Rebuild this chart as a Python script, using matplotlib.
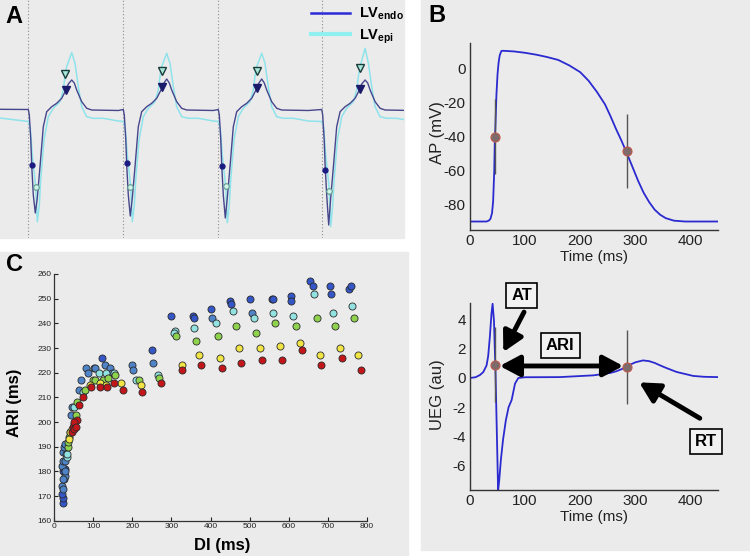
import matplotlib
matplotlib.use("Agg")
import matplotlib.pyplot as plt
from matplotlib.patches import Rectangle, ArrowStyle

plt.rcParams["font.family"] = ["Liberation Sans", "DejaVu Sans"]
plt.rcParams["mathtext.fontset"] = "custom"
plt.rcParams["mathtext.bf"] = "Liberation Sans:bold"
plt.rcParams["mathtext.rm"] = "Liberation Sans"
plt.rcParams["axes.unicode_minus"] = False

# ---------------- data ----------------
# Panel A: beat template (offset from beat onset, trace level; down is more negative deflection)
endo_dt = [0, 1, 2.5, 3.4, 5, 7, 9, 11.7, 15, 18.4, 23.4, 28.4, 33.4, 37.7, 40, 43.4, 46, 48.4, 53.4, 58.4, 63.4, 90]
endo_lv = [109.5, 115, 140, 165, 195, None, 198, 166.7, 126.7, 111.7, 106.7, 103.3, 98.3, 90, 84, None, 83, 90, 101.7, 108.3, 110, 110.5]
epi_dt = [0, 2, 4, 7.4, 9, 11, 12.4, 15.7, 20, 25, 31.7, 35, 37, 38.4, 43.4, 46.7, 50, 53.4, 58.4, 65, 75, 90]
epi_lv = [121.5, 128, 155, 186.7, None, 205, 180, 140, 116.7, 108.3, 101.7, 90, 74, 66.7, None, 63.3, 86.7, 106.7, 116.7, 118.3, 118.3, 121]
beat_onsets = [28.3, 123.3, 218.3, 321.7]
endo_min = [213, 216, 218, 225]
endo_peak = [80, 79, 79, 80]
epi_min = [221.7, 221.7, 222.7, 226.7]
epi_peak = [52.5, 53.3, 53.3, 48.3]
endo_dot_x = [31.7, 126.7, 221.7, 325.0]
endo_dot_y = [165, 163, 165.7, 170]
epi_circ_x = [35.7, 130.3, 225.7, 328.7]
epi_circ_y = [186.7, 187.3, 186, 190.7]
epi_tri_x = [65.3, 161.7, 256.7, 360.3]
epi_tri_y = [74, 71, 71, 67.7]
endo_tri_x = [66, 162, 256.7, 360]
endo_tri_y = [90, 87.3, 87.7, 89]

# Panel B: action potential
ap_t = [0, 30, 34, 37, 40, 42, 44, 45, 46, 47, 48, 50, 52, 54, 57, 60, 80, 100, 120, 140, 160, 180, 200,
        215, 230, 245, 255, 265, 275, 283, 295, 305, 315, 325, 335, 345, 355, 370, 390, 450]
ap_v = [-90, -90, -89.5, -88.5, -85, -78, -60, -42, -35, -25, -15, -3, 4, 8, 10.5, 10.6, 10.2, 9.4, 8.3, 6.9, 5.2, 2.0, -2,
        -7, -13.5, -21, -28, -35.5, -42.5, -48.5, -58, -66, -73, -78.5, -83, -86, -88, -89.5, -90, -90]
# Panel B: unipolar electrogram
ueg_t = [0, 10, 18, 24, 30, 33, 36, 39, 41, 43.5, 45.3, 46, 51, 53, 56, 60, 65, 70, 75.6, 81.7, 87.7, 95, 100,
         163, 224, 254, 265, 275, 284, 290, 300, 314, 325, 335, 345, 355, 375, 405, 425, 450]
ueg_v = [0, 0.05, 0.2, 0.4, 0.85, 1.5, 2.8, 4.4, 5.07, 3.9, 1.6, 0.9, -7.7, -7.0, -5.6, -4.2, -2.9, -2.0, -1.5, -0.38, 0.0, 0.03, 0.05,
         0.06, 0.18, 0.34, 0.45, 0.6, 0.75, 0.9, 1.07, 1.2, 1.15, 1.03, 0.86, 0.7, 0.41, 0.14, 0.08, 0.06]
at_time, rt_time = 46, 284
ap_at, ap_rt = -40, -48.5
ueg_at, ueg_rt = 0.9, 0.75

# Panel C: restitution (DI, ARI) by series
db_di = [298, 355, 357, 401, 450, 452, 502, 557, 559, 605, 607, 655, 662, 705, 708, 755, 758, 122, 250, 22, 24, 21, 23, 26, 28]
db_ari = [243, 243, 242, 246, 249, 248, 250, 250, 250, 251, 249, 257, 255, 255, 252, 254, 255, 226, 229, 167, 169, 171, 180, 181, 181]
bl_di = [404, 505, 83, 87, 102, 106, 130, 143, 147, 200, 203, 252, 20, 23, 25, 27, 21, 24, 27, 23, 25, 28, 30, 43, 45, 64, 68, 22, 29]
bl_ari = [242, 244, 222, 220, 222, 222, 223, 222, 220, 223, 221, 224, 174, 173, 177, 178, 182, 184, 184, 188, 190, 191, 187, 203, 206, 213, 217, 177, 180]
cy_di = [308, 307, 358, 415, 458, 512, 560, 610, 665, 713, 762, 115, 133, 153, 210, 265, 73, 52, 32, 34]
cy_ari = [237, 236, 238, 240, 245, 242, 244, 243, 252, 244, 247, 220, 220, 220, 217, 219, 212, 206, 186, 187]
gr_di = [313, 364, 419, 465, 517, 566, 618, 672, 718, 768, 100, 105, 124, 139, 157, 216, 268, 80, 58, 55, 35, 37, 39, 41]
gr_ari = [235, 233, 235, 239, 236, 240, 239, 242, 239, 242, 217, 217, 217, 218, 219, 217, 218, 213, 208, 203, 190, 192, 194, 196]
ye_di = [326, 371, 425, 474, 527, 577, 630, 680, 732, 778, 92, 118, 133, 172, 222, 38, 42, 46, 50]
ye_ari = [223, 227, 226, 230, 230, 231, 232, 227, 230, 227, 215, 216, 215, 216, 215, 193, 196, 197, 199]
rd_di = [328, 375, 430, 478, 531, 583, 633, 683, 737, 785, 95, 117, 135, 154, 177, 225, 274, 73, 65, 60, 45, 48, 50, 52, 55]
rd_ari = [221, 223, 222, 224, 225, 225, 229, 223, 226, 221, 214, 214, 214, 216, 213, 212, 216, 210, 207, 201, 196, 198, 200, 197, 198]

# ---------------- layout ----------------
W, H = 750, 556
GRAY = "#ebebeb"
fig = plt.figure(figsize=(W / 100, H / 100), dpi=100)


def panel_bg(x0, y0, x1, y1):
    fig.add_artist(Rectangle((x0 / W, 1 - y1 / H), (x1 - x0) / W, (y1 - y0) / H,
                             transform=fig.transFigure, color=GRAY, zorder=0))


def add_ax(x0, y0, x1, y1):
    return fig.add_axes([x0 / W, 1 - y1 / H, (x1 - x0) / W, (y1 - y0) / H])


panel_bg(0, 0, 404, 238)
panel_bg(0, 252, 408, 556)
panel_bg(421, 0, 750, 550)

# ---------------- panel A ----------------
ax_a = add_ax(0, 0, 404, 238)
ax_a.set_facecolor("none")
for s in ax_a.spines.values():
    s.set_visible(False)
ax_a.set_xticks([])
ax_a.set_yticks([])
ax_a.set_xlim(0, 404)
ax_a.set_ylim(238, 0)

endo_x, endo_y = [0], [109.3]
epi_x, epi_y = [0], [118]
for k, t0 in enumerate(beat_onsets):
    for dt, lv in zip(endo_dt, endo_lv):
        if lv is None:
            lv = endo_min[k] if dt < 20 else endo_peak[k]
        endo_x.append(t0 + dt)
        endo_y.append(lv)
    for dt, lv in zip(epi_dt, epi_lv):
        if lv is None:
            lv = epi_min[k] if dt < 20 else epi_peak[k]
        epi_x.append(t0 + dt)
        epi_y.append(lv)

for t0 in beat_onsets:
    ax_a.axvline(t0, color="#8a8a8a", lw=0.8, ls=(0, (1, 2)), zorder=1)

ax_a.plot(epi_x, epi_y, color="#8fe3ea", lw=1.1, zorder=2)
ax_a.plot(endo_x, endo_y, color="#46468c", lw=1.0, zorder=3)
ax_a.plot(endo_dot_x, endo_dot_y, "o", ms=3.5, color="#1a1a80", zorder=4)
ax_a.plot(epi_circ_x, epi_circ_y, "o", ms=4, mfc="#d2f2ea", mec="#5a9a8c", mew=0.8, zorder=4)
ax_a.plot(epi_tri_x, epi_tri_y, "v", ms=6, mfc="#a8e8d8", mec="#1a3a3a", mew=1.0, zorder=4)
ax_a.plot(endo_tri_x, endo_tri_y, "v", ms=6, mfc="#1a1a6a", mec="#1a1a6a", zorder=4)

h_endo, = ax_a.plot([], [], color="#2b2bd6", lw=1.8)
h_epi, = ax_a.plot([], [], color="#90f0f0", lw=3)
ax_a.legend([h_endo, h_epi], [r"$\mathbf{LV}_{\mathbf{endo}}$", r"$\mathbf{LV}_{\mathbf{epi}}$"],
            loc="upper left", bbox_to_anchor=(0.762, 0.988), frameon=False, fontsize=10.5,
            handlelength=2.7, handletextpad=0.6, labelspacing=0.35, borderpad=0.2, borderaxespad=0)

# ---------------- panel B ----------------
BLUE = "#2a2ad0"
ax_ap = add_ax(470, 43.3, 718, 230)
ax_ueg = add_ax(470, 303.3, 718, 490)
for ax in (ax_ap, ax_ueg):
    ax.set_facecolor("none")
    ax.spines["top"].set_visible(False)
    ax.spines["right"].set_visible(False)
    for s in ("left", "bottom"):
        ax.spines[s].set_color("#333333")
        ax.spines[s].set_linewidth(1.0)
    ax.tick_params(length=0, labelsize=11, colors="#222222")
    ax.tick_params(axis="y", pad=3)
    ax.tick_params(axis="x", pad=3)
    ax.set_xlim(0, 450)
    ax.set_xticks([0, 100, 200, 300, 400])
    ax.set_xlabel("Time (ms)", fontsize=11, color="#222222", labelpad=1)

ax_ap.plot(ap_t, ap_v, color=BLUE, lw=1.3, zorder=2)
ax_ap.vlines([at_time, rt_time], [ap_at - 22, ap_rt - 22], [ap_at + 22, ap_rt + 22], color="#555555", lw=1, zorder=3)
ax_ap.plot([at_time, rt_time], [ap_at, ap_rt], "o", ms=6.5, mfc="#7d6a6a", mec="#c05a4c", mew=0.8, zorder=4)
ax_ap.set_ylim(-95, 15)
ax_ap.set_yticks([-80, -60, -40, -20, 0])
ax_ap.set_ylabel("AP (mV)", fontsize=12, color="#222222")
ax_ap.yaxis.set_label_coords(-0.1, 0.52)

ax_ueg.plot(ueg_t, ueg_v, color=BLUE, lw=1.3, zorder=2)
ax_ueg.vlines([at_time, rt_time], [ueg_at - 2.55, ueg_rt - 2.55], [ueg_at + 2.55, ueg_rt + 2.55], color="#555555", lw=1, zorder=3)
ax_ueg.plot([at_time, rt_time], [ueg_at, ueg_rt], "o", ms=6.5, mfc="#7d6a6a", mec="#c05a4c", mew=0.8, zorder=4)
ax_ueg.set_ylim(-7.65, 5.1)
ax_ueg.set_yticks([-6, -4, -2, 0, 2, 4])
ax_ueg.set_ylabel("UEG (au)", fontsize=12, color="#222222")
ax_ueg.yaxis.set_label_coords(-0.1, 0.509)

head = ArrowStyle("-|>", head_length=0.6, head_width=0.32)
dbl = ArrowStyle("<|-|>", head_length=0.6, head_width=0.32)
ax_ueg.annotate("", xy=(60.4, 1.77), xytext=(98, 4.5),
                arrowprops=dict(arrowstyle=head, lw=3.5, color="k", mutation_scale=20, shrinkA=0, shrinkB=0),
                annotation_clip=False, zorder=5)
ax_ueg.annotate("", xy=(278, 0.82), xytext=(54, 0.82),
                arrowprops=dict(arrowstyle=dbl, lw=3.5, color="k", mutation_scale=20, shrinkA=0, shrinkB=0),
                zorder=5)
ax_ueg.annotate("", xy=(307, -0.3), xytext=(417, -2.75),
                arrowprops=dict(arrowstyle=head, lw=3.5, color="k", mutation_scale=20, shrinkA=0, shrinkB=0),
                zorder=5)
box = dict(boxstyle="square,pad=0.3", fc="#f2f2f2", ec="k", lw=1.2)
ax_ueg.text(94, 5.64, "AT", fontsize=12, fontweight="bold", ha="center", va="center", bbox=box, zorder=6)
ax_ueg.text(164, 2.19, "ARI", fontsize=12, fontweight="bold", ha="center", va="center", bbox=box, zorder=6)
ax_ueg.text(428, -4.32, "RT", fontsize=12, fontweight="bold", ha="center", va="center", bbox=box, zorder=6)

# ---------------- panel C ----------------
ax_c = add_ax(54, 274, 367, 520.7)
ax_c.set_facecolor("none")
ax_c.spines["top"].set_visible(False)
ax_c.spines["right"].set_visible(False)
for s in ("left", "bottom"):
    ax_c.spines[s].set_color("#333333")
    ax_c.spines[s].set_linewidth(0.9)
ax_c.set_xlim(0, 800)
ax_c.set_ylim(160, 260)
ax_c.set_xticks(range(0, 801, 100))
ax_c.set_yticks(range(160, 261, 10))
ax_c.tick_params(direction="in", length=3, width=0.8, labelsize=6, pad=2, colors="#222222")
for di, ari, col in [(db_di, db_ari, "#3456c6"), (bl_di, bl_ari, "#4f84c8"), (cy_di, cy_ari, "#92e2e2"),
                     (gr_di, gr_ari, "#8fd24e"), (ye_di, ye_ari, "#f0e545"), (rd_di, rd_ari, "#c3161a")]:
    ax_c.scatter(di, ari, s=26, c=col, edgecolors="#2a2a2a", linewidths=0.6, zorder=3, clip_on=False)
ax_c.set_xlabel("DI (ms)", fontsize=12, fontweight="bold")
ax_c.set_ylabel("ARI (ms)", fontsize=12, fontweight="bold")
ax_c.xaxis.set_label_coords(0.536, -0.07)
ax_c.yaxis.set_label_coords(-0.103, 0.479)

# panel letters
for lab, x, y in [("A", 14, 16.7), ("B", 436.7, 15.5), ("C", 14, 265)]:
    fig.text(x / W, 1 - y / H, lab, fontsize=17, fontweight="bold", ha="center", va="center")

fig.savefig("out.png", dpi=100)
